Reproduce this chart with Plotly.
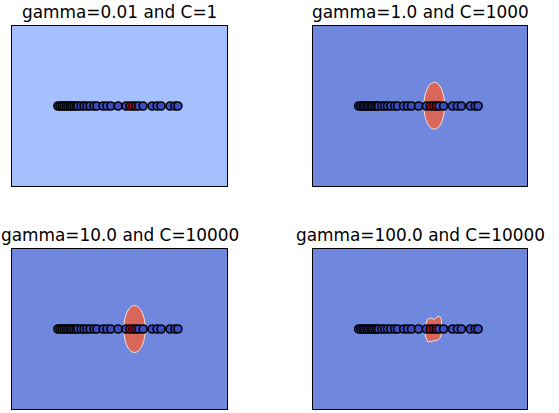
import plotly.graph_objects as go

# ---- data ----
titles = ["gamma=0.01 and C=1", "gamma=1.0 and C=1000",
          "gamma=10.0 and C=10000", "gamma=100.0 and C=10000"]

point_x = [-1.72, -1.66, -1.60, -1.55, -1.49, -1.44, -1.38, -1.33, -1.27, -1.21,
           -1.16, -1.07, -0.99, -0.91, -0.82, -0.71, -0.63, -0.46, -0.35, -0.24,
           -0.04, 0.18, 0.29, 0.38, 0.46, 0.54, 0.66, 0.91, 1.05, 1.16, 1.41,
           1.55, 1.63]
point_y = [0.0] * len(point_x)
point_class = [0, 0, 0, 0, 0, 0, 0, 0, 0, 0,
               0, 0, 0, 0, 0, 0, 0, 0, 0, 0,
               0, 0, 1, 1, 1, 0, 0, 0, 0, 0, 0,
               0, 0]

# background (negative class) colour per panel
panel_bg = ["#a4c0fe", "#6f87dc", "#6f87dc", "#6f87dc"]

# red (positive class) regions: ellipses for panels 2 and 3 (center x, center y, half-width, half-height)
ellipse_panel = [2, 3]
ellipse_cx = [0.40, 0.42]
ellipse_cy = [0.01, 0.0]
ellipse_rx = [0.29, 0.30]
ellipse_ry = [0.88, 0.88]

# irregular red region in panel 4 (boundary vertices)
region4_x = [0.13, 0.16, 0.21, 0.31, 0.40, 0.48, 0.55, 0.60, 0.61, 0.58, 0.50, 0.36, 0.22, 0.16]
region4_y = [-0.04, 0.17, 0.36, 0.42, 0.35, 0.46, 0.48, 0.36, -0.04, -0.30, -0.42, -0.45, -0.49, -0.30]

x_range = [-3, 3]
y_range = [-3, 3]

# ---- layout ----
W, H = 559, 413
col_px = [(12, 227), (313, 527)]
row_px = [(26, 186), (249, 409)]

BLUE = "#3b4cc0"
RED = "#b40426"
REGION_RED = "#d8665a"
EDGE = "#f3e2dc"

fig = go.Figure()
shapes = []
annotations = []

for i in range(4):
    r, c = divmod(i, 2)
    ax = "" if i == 0 else str(i + 1)
    xa, ya = "x" + ax, "y" + ax
    x0, x1 = col_px[c]
    y0, y1 = row_px[r]
    fig.layout["xaxis" + ax] = dict(domain=[x0 / W, x1 / W], range=x_range, anchor=ya,
                                     showgrid=False, zeroline=False, showticklabels=False,
                                     ticks="", showline=True, linecolor="black", linewidth=1,
                                     mirror=True, fixedrange=True)
    fig.layout["yaxis" + ax] = dict(domain=[1 - y1 / H, 1 - y0 / H], range=y_range, anchor=xa,
                                     showgrid=False, zeroline=False, showticklabels=False,
                                     ticks="", showline=True, linecolor="black", linewidth=1,
                                     mirror=True, fixedrange=True)
    shapes.append(dict(type="rect", xref=xa + " domain", yref=ya + " domain",
                       x0=0, x1=1, y0=0, y1=1, fillcolor=panel_bg[i],
                       line=dict(width=0), layer="below"))
    panel_no = i + 1
    for k, p in enumerate(ellipse_panel):
        if p == panel_no:
            shapes.append(dict(type="circle", xref=xa, yref=ya,
                               x0=ellipse_cx[k] - ellipse_rx[k], x1=ellipse_cx[k] + ellipse_rx[k],
                               y0=ellipse_cy[k] - ellipse_ry[k], y1=ellipse_cy[k] + ellipse_ry[k],
                               fillcolor=REGION_RED, line=dict(color=EDGE, width=1),
                               layer="below"))
    if panel_no == 4:
        path = "M " + " L ".join(f"{x},{y}" for x, y in zip(region4_x, region4_y)) + " Z"
        shapes.append(dict(type="path", xref=xa, yref=ya, path=path,
                           fillcolor=REGION_RED, line=dict(color=EDGE, width=1),
                           layer="below"))

    fig.add_trace(go.Scatter(
        x=point_x, y=point_y, mode="markers", xaxis=xa, yaxis=ya,
        marker=dict(size=8, color=[RED if k else BLUE for k in point_class],
                    line=dict(color="black", width=1.6)),
        hoverinfo="skip", showlegend=False))

    annotations.append(dict(text=titles[i], xref="paper", yref="paper",
                            x=(x0 + x1) / 2 / W, y=1 - (y0 - 2) / H,
                            xanchor="center", yanchor="bottom", showarrow=False,
                            font=dict(family="DejaVu Sans", size=16.9, color="black")))

fig.update_layout(width=W, height=H, margin=dict(l=0, r=0, t=0, b=0),
                  paper_bgcolor="white", plot_bgcolor="white",
                  shapes=shapes, annotations=annotations, showlegend=False)

fig.write_html("out.html", config={"displayModeBar": False})
